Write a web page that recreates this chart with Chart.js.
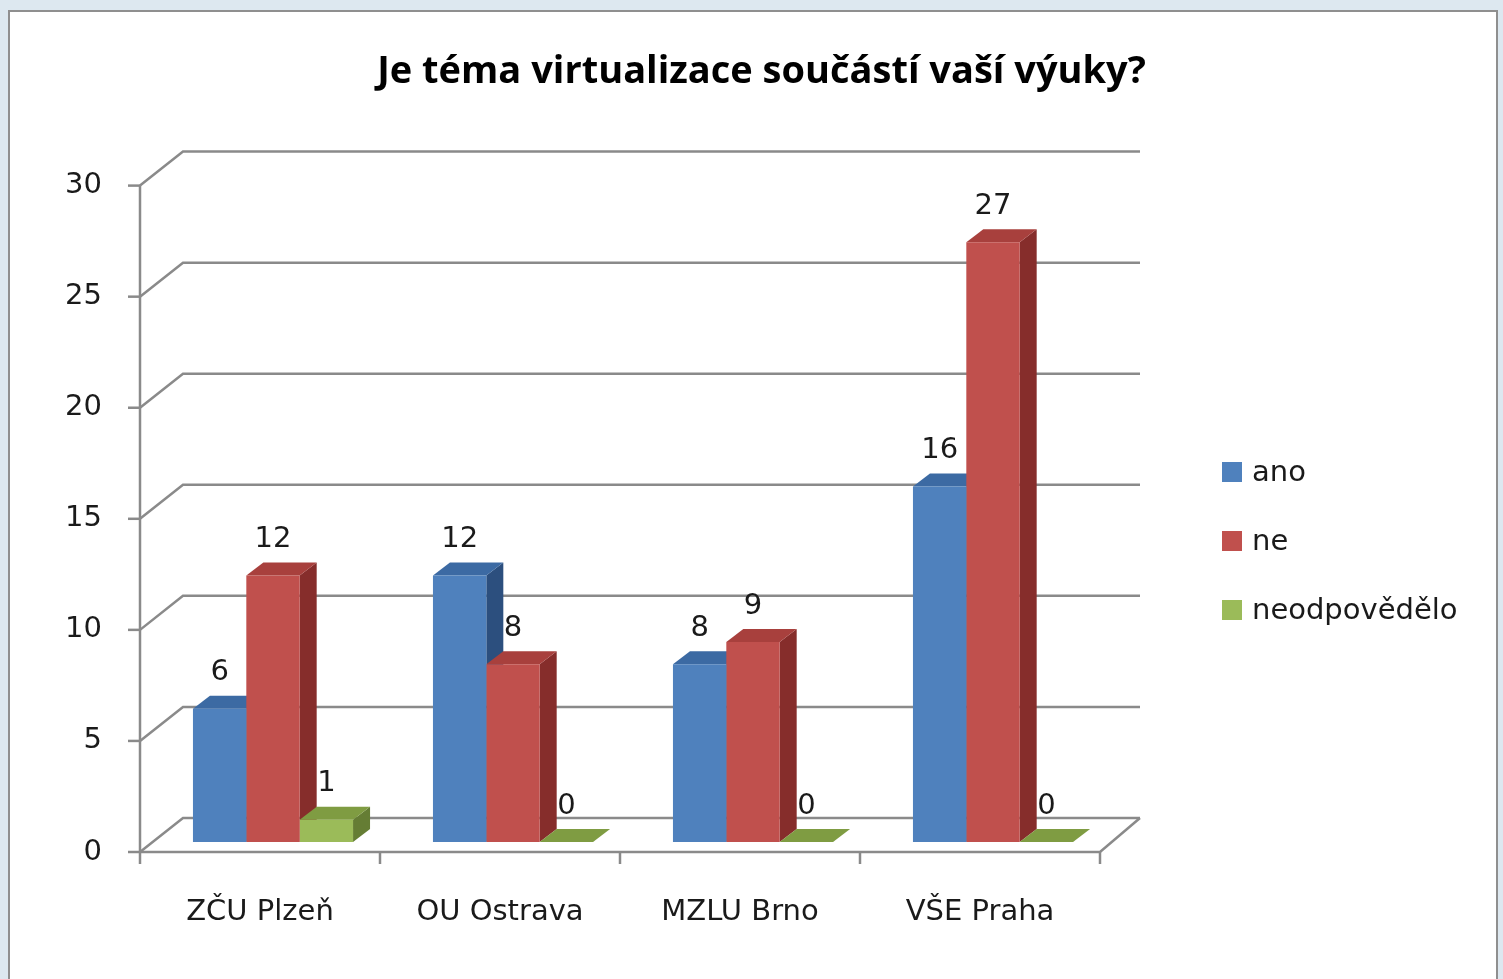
<!DOCTYPE html>
<html lang="cs">
<head>
<meta charset="utf-8">
<title>Je téma virtualizace součástí vaší výuky?</title>
<script src="https://cdn.jsdelivr.net/npm/chart.js@4.4.1/dist/chart.umd.min.js"></script>
<style>
    html, body { margin: 0; padding: 0; background: #dde8f0; }
    canvas { display: block; }
</style>
</head>
<body>
<canvas id="canvas" width="1503" height="979"></canvas>
<script>
const categories = ['ZČU Plzeň', 'OU Ostrava', 'MZLU Brno', 'VŠE Praha'];
const seriesNames = ['ano', 'ne', 'neodpovědělo'];
const anoValues = [6, 12, 8, 16];
const neValues = [12, 8, 9, 27];
const neodpovedeloValues = [1, 0, 0, 0];
const yTickValues = [0, 5, 10, 15, 20, 25, 30];

const barColors = [
    { front: '#4f81bd', top: '#3c6aa3', side: '#2c4f7e' },
    { front: '#c0504d', top: '#a8403d', side: '#862d2b' },
    { front: '#9bbb59', top: '#7f9c42', side: '#657d34' },
];

// 3D look: back wall offset from the front plane, bar plane shift, bar depth
const wallDepth = { x: 43, y: -34 };
const barShift = { x: 13, y: -10 };
const barDepth = { x: 17, y: -13 };
const lineColor = '#8a8a8a';
const labelFont = '29px "DejaVu Sans"';

const ctx = document.getElementById('canvas');

function line(c, pts) {
    c.beginPath();
    c.moveTo(pts[0][0], pts[0][1]);
    for (let i = 1; i < pts.length; i++) c.lineTo(pts[i][0], pts[i][1]);
    c.stroke();
}

function poly(c, pts, color) {
    c.beginPath();
    c.moveTo(pts[0][0], pts[0][1]);
    for (let i = 1; i < pts.length; i++) c.lineTo(pts[i][0], pts[i][1]);
    c.closePath();
    c.fillStyle = color;
    c.fill();
}

function barsInOrder(chart) {
    const list = [];
    for (let i = 0; i < categories.length; i++) {
        chart.data.datasets.forEach((ds, d) => {
            const el = chart.getDatasetMeta(d).data[i];
            if (el) list.push({ el: el, d: d, value: ds.data[i] });
        });
    }
    return list;
}

const chart3d = {
    id: 'chart3d',
    beforeDraw(chart) {
        const c = chart.ctx;
        c.save();
        c.fillStyle = '#dde8f0';
        c.fillRect(0, 0, chart.width, chart.height);
        c.fillStyle = '#ffffff';
        c.fillRect(9, 11, chart.width - 15, chart.height);
        c.strokeStyle = '#8f8f8f';
        c.lineWidth = 2;
        c.strokeRect(9, 11, chart.width - 15, chart.height + 10);
        c.restore();
    },
    beforeDatasetsDraw(chart) {
        const c = chart.ctx;
        const xs = chart.scales.x;
        const ys = chart.scales.y;
        const left = xs.left, right = xs.right, bottom = ys.bottom;

        c.save();
        c.strokeStyle = lineColor;
        c.lineWidth = 2.5;
        // back wall grid lines with the diagonal on the side wall
        yTickValues.forEach(v => {
            const y = ys.getPixelForValue(v);
            line(c, [[left, y], [left + wallDepth.x, y + wallDepth.y], [right + wallDepth.x - 3, y + wallDepth.y]]);
            line(c, [[left - 12, y], [left, y]]);
        });
        // front axis and floor edges
        line(c, [[left, ys.top], [left, bottom]]);
        line(c, [[left, bottom], [right, bottom], [right + wallDepth.x - 3, bottom + wallDepth.y]]);
        for (let i = 0; i <= categories.length; i++) {
            const x = left + (right - left) * i / categories.length;
            line(c, [[x, bottom], [x, bottom + 12]]);
        }
        c.restore();

        // side and top faces, left to right, then the library draws the fronts over them
        c.save();
        c.translate(barShift.x, barShift.y);
        barsInOrder(chart).forEach(b => {
            const p = b.el.getProps(['x', 'y', 'base', 'width'], true);
            const l = p.x - p.width / 2, r = p.x + p.width / 2;
            const col = barColors[b.d];
            poly(c, [[r, p.y], [r + barDepth.x, p.y + barDepth.y], [r + barDepth.x, p.base + barDepth.y], [r, p.base]], col.side);
            poly(c, [[l, p.y], [r, p.y], [r + barDepth.x, p.y + barDepth.y], [l + barDepth.x, p.y + barDepth.y]], col.top);
        });
        c.restore();

        c.save();
        c.translate(barShift.x, barShift.y);
    },
    afterDatasetsDraw(chart) {
        const c = chart.ctx;
        c.restore();

        c.save();
        c.font = labelFont;
        c.fillStyle = '#1a1a1a';
        c.textAlign = 'center';
        c.textBaseline = 'middle';
        barsInOrder(chart).forEach(b => {
            const p = b.el.getProps(['x', 'y'], true);
            c.fillText(String(b.value), p.x + barShift.x, p.y + barShift.y - 36);
        });
        c.restore();
    },
    afterDraw(chart) {
        const c = chart.ctx;
        const area = chart.chartArea;
        const x0 = area.right + 122;
        const y0 = 472;
        c.save();
        c.font = labelFont;
        c.textAlign = 'left';
        c.textBaseline = 'middle';
        chart.data.datasets.forEach((ds, d) => {
            const y = y0 + d * 69;
            c.fillStyle = barColors[d].front;
            c.fillRect(x0, y - 10, 20, 20);
            c.fillStyle = '#1a1a1a';
            c.fillText(ds.label, x0 + 30, y + 1);
        });
        c.restore();
    },
};

new Chart(ctx, {
    type: 'bar',
    data: {
        labels: categories,
        datasets: [
            { label: seriesNames[0], data: anoValues, backgroundColor: barColors[0].front },
            { label: seriesNames[1], data: neValues, backgroundColor: barColors[1].front },
            { label: seriesNames[2], data: neodpovedeloValues, backgroundColor: barColors[2].front },
        ],
    },
    options: {
        responsive: false,
        animation: false,
        devicePixelRatio: 1,
        layout: { padding: { left: 20, right: 0, top: 0, bottom: 0 } },
        datasets: {
            bar: { categoryPercentage: 0.667, barPercentage: 1, borderWidth: 0 },
        },
        plugins: {
            legend: { display: false },
            tooltip: { enabled: false },
            title: {
                display: true,
                text: 'Je téma virtualizace součástí vaší výuky?',
                color: '#000000',
                font: { family: '"Open Sans"', size: 38, weight: 'bold', lineHeight: 1.2 },
                padding: { top: 49, bottom: 91 },
            },
        },
        scales: {
            x: {
                grid: { display: false, drawTicks: false },
                border: { display: false },
                ticks: { color: '#1a1a1a', font: { family: '"DejaVu Sans"', size: 29 }, padding: 43 },
                afterFit(scale) { scale.height = 127; },
            },
            y: {
                min: 0,
                max: 30,
                grid: { display: false, drawTicks: false },
                border: { display: false },
                ticks: { stepSize: 5, color: '#1a1a1a', font: { family: '"DejaVu Sans"', size: 29 }, padding: 38 },
                afterFit(scale) { scale.width = 120; },
            },
            legendSpace: {
                type: 'linear',
                axis: 'y',
                position: 'right',
                display: true,
                grid: { display: false, drawTicks: false },
                border: { display: false },
                ticks: { display: false },
                afterFit(scale) { scale.width = 403; },
            },
        },
    },
    plugins: [chart3d],
});
</script>
</body>
</html>
